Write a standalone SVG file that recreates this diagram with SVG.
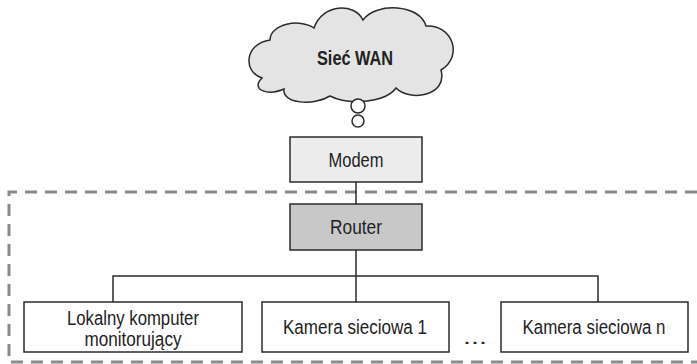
<svg xmlns="http://www.w3.org/2000/svg" width="697" height="364" viewBox="0 0 697 364">
<style>
.box{stroke:#2b2b2b;stroke-width:1.5}
.t{font-family:"Liberation Sans",Arial,sans-serif;font-size:20px;fill:#222;text-anchor:middle}
.c{fill:none;stroke:#2b2b2b;stroke-width:1.5}
.dash{fill:none;stroke:#8a8a8a;stroke-width:3;stroke-dasharray:12 8}
</style>
<rect width="697" height="364" fill="#fff"/>
<path class="dash" d="M697,192 H9 V362 H697"/>
<g id="connectors">
<line class="c" x1="356" y1="182" x2="356" y2="204"/>
<line class="c" x1="356" y1="250" x2="356" y2="302"/>
<polyline class="c" points="113,302 113,276 598,276 598,302"/>
</g>
<g id="wan">
<path d="M262,78 C243,72 244,44 270,40 C270,24 300,18 314,28 C322,4 354,2 363,20 C376,2 420,4 426,26 C452,24 464,56 441,70 C448,96 410,102 396,88 C386,102 350,106 330,96 C314,106 282,104 284,89 C268,96 250,90 262,78 Z" fill="#e4e4e4" stroke="#2b2b2b" stroke-width="1.5"/>
<circle cx="358" cy="106" r="7" fill="#fff" stroke="#2b2b2b" stroke-width="1.5"/>
<circle cx="358" cy="121" r="6" fill="#fff" stroke="#2b2b2b" stroke-width="1.5"/>
<text class="t" x="355" y="65" style="font-weight:bold;font-size:21px" textLength="76" lengthAdjust="spacingAndGlyphs">Sieć WAN</text>
</g>
<g id="modem">
<rect class="box" x="290" y="137" width="132" height="45" fill="#ececec"/>
<text class="t" x="356" y="167" textLength="55" lengthAdjust="spacingAndGlyphs">Modem</text>
</g>
<g id="router">
<rect class="box" x="290" y="204" width="132" height="46" fill="#c8c8c8"/>
<text class="t" x="356" y="234" textLength="52" lengthAdjust="spacingAndGlyphs">Router</text>
</g>
<g id="komputer">
<rect class="box" x="24" y="302" width="218" height="50" fill="#fff"/>
<text class="t" x="133" y="325" textLength="132" lengthAdjust="spacingAndGlyphs">Lokalny komputer</text>
<text class="t" x="133" y="346" textLength="97" lengthAdjust="spacingAndGlyphs">monitorujący</text>
</g>
<g id="kamera1">
<rect class="box" x="262" y="302" width="187" height="50" fill="#fff"/>
<text class="t" x="355" y="334" textLength="144" lengthAdjust="spacingAndGlyphs">Kamera sieciowa 1</text>
</g>
<text class="t" x="475" y="344" textLength="24" lengthAdjust="spacingAndGlyphs">...</text>
<g id="kameran">
<rect class="box" x="501" y="302" width="187" height="50" fill="#fff"/>
<text class="t" x="594" y="334" textLength="143" lengthAdjust="spacingAndGlyphs">Kamera sieciowa n</text>
</g>
</svg>
